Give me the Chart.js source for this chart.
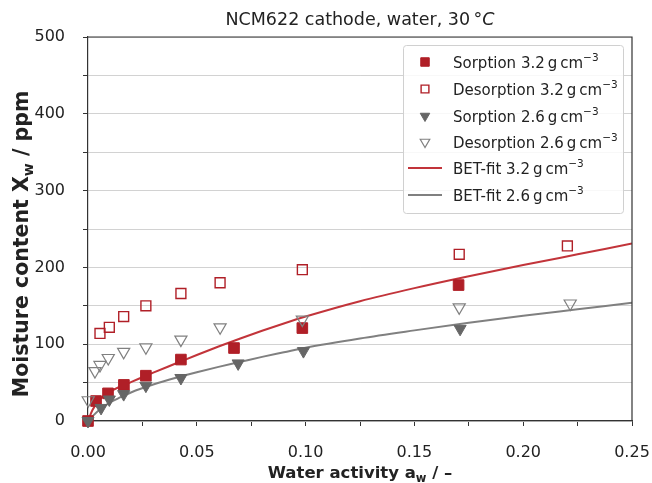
<!DOCTYPE html>
<html>
<head>
<meta charset="utf-8">
<script src="https://cdn.jsdelivr.net/npm/chart.js@4.4.1/dist/chart.umd.min.js"></script>
<style>
  html, body { margin: 0; padding: 0; background: #fff; }
  canvas { display: block; }
</style>
</head>
<body>
<canvas id="isotherm" width="652" height="483"></canvas>
<script>
// water activity (x) and moisture content in ppm (y)
const sorption32Aw = [0.0, 0.0037, 0.0092, 0.0165, 0.0266, 0.0427, 0.0671, 0.0985, 0.1703];
const sorption32Ppm = [0, 26, 36, 47, 59, 80, 95, 121, 177];

const desorption32Aw = [0.0055, 0.0098, 0.0164, 0.0266, 0.0427, 0.0607, 0.0985, 0.1706, 0.2203];
const desorption32Ppm = [114, 122, 136, 150, 166, 180, 197, 217, 228];

const sorption26Aw = [0.0, 0.006, 0.0098, 0.0164, 0.0266, 0.0427, 0.069, 0.099, 0.171];
const sorption26Ppm = [0, 17, 28, 35, 46, 56, 75, 91, 120];

const desorption26Aw = [0.0001, 0.0032, 0.0055, 0.0093, 0.0164, 0.0266, 0.0427, 0.0607, 0.0985, 0.1706, 0.2216];
const desorption26Ppm = [27, 65, 73, 82, 90, 96, 106, 122, 132, 148, 153];

// BET fit curves, sampled along aw
const fitAw = [0, 0.002, 0.005, 0.01, 0.015, 0.02, 0.03, 0.04, 0.05, 0.06, 0.07, 0.08, 0.09, 0.1, 0.125, 0.15, 0.175, 0.2, 0.225, 0.25];
const fit32Ppm = [0, 14, 27, 38, 45, 51, 63, 74.5, 86, 97, 107.5, 117.5, 127, 136, 156, 173, 188.5, 203, 217, 231];
const fit26Ppm = [0, 6, 14, 24, 31, 37.5, 47.5, 56, 63.5, 70.5, 77, 83.5, 89.5, 95.5, 107.5, 118, 128, 137, 145.5, 154];

const xTickLabels = ['0.00', '0.05', '0.10', '0.15', '0.20', '0.25'];
const yTickLabels = ['0', '100', '200', '300', '400', '500'];

const legendNames = ['Sorption 3.2', 'Desorption 3.2', 'Sorption 2.6', 'Desorption 2.6', 'BET-fit 3.2', 'BET-fit 2.6'];

const RED = '#b01f27';
const RED_LINE = '#c2343a';
const GREY = '#666666';
const GREY_LINE = '#808080';
const FONT = "'DejaVu Sans', sans-serif";

function pts(xs, ys) {
    return xs.map((x, i) => ({ x: x, y: ys[i] }));
}

// draws a list of text runs left to right, returns total width
function drawRuns(ctx, x, y, runs, measureOnly) {
    let cx = x;
    runs.forEach(r => {
        ctx.font = r.font;
        if (!measureOnly) ctx.fillText(r.text, cx, y + (r.dy || 0));
        cx += ctx.measureText(r.text).width;
    });
    return cx - x;
}

function unitRuns(name) {
    return [
        { text: name + '\u2009g\u2009cm', font: '15px ' + FONT },
        { text: '\u22123', font: '10.5px ' + FONT, dy: -7 }
    ];
}

const decorPlugin = {
    id: 'decor',
    afterDraw(chart) {
        const ctx = chart.ctx;
        const a = chart.chartArea;
        ctx.save();

        // top and right frame
        ctx.strokeStyle = '#333';
        ctx.lineWidth = 1.2;
        ctx.beginPath();
        ctx.moveTo(a.left, a.top);
        ctx.lineTo(a.right, a.top);
        ctx.lineTo(a.right, a.bottom);
        ctx.stroke();

        ctx.fillStyle = '#222';
        ctx.textBaseline = 'alphabetic';

        // title
        const title = [
            { text: 'NCM622 cathode, water, 30\u2009\u00b0', font: '17.5px ' + FONT },
            { text: 'C', font: 'italic 17.5px ' + FONT }
        ];
        let w = drawRuns(ctx, 0, 0, title, true);
        drawRuns(ctx, (a.left + a.right) / 2 - w / 2, 25, title);

        // x axis title
        const xt = [
            { text: 'Water activity a', font: 'bold 16.5px ' + FONT },
            { text: 'w', font: 'bold 11.5px ' + FONT, dy: 4 },
            { text: ' / \u2013', font: 'bold 16.5px ' + FONT }
        ];
        w = drawRuns(ctx, 0, 0, xt, true);
        drawRuns(ctx, (a.left + a.right) / 2 - w / 2, 478, xt);

        // y axis title
        const yt = [
            { text: 'Moisture content X', font: 'bold 20.5px ' + FONT },
            { text: 'w', font: 'bold 14px ' + FONT, dy: 5 },
            { text: ' / ppm', font: 'bold 20.5px ' + FONT }
        ];
        w = drawRuns(ctx, 0, 0, yt, true);
        ctx.save();
        ctx.translate(28, 244);
        ctx.rotate(-Math.PI / 2);
        drawRuns(ctx, -w / 2, 0, yt);
        ctx.restore();

        // legend box
        const bx = 403, by = 45, bw = 220, bh = 168;
        ctx.fillStyle = 'rgba(255,255,255,0.85)';
        ctx.strokeStyle = '#d0d0d0';
        ctx.lineWidth = 1;
        ctx.beginPath();
        ctx.roundRect(bx + 0.5, by + 0.5, bw, bh, 3);
        ctx.fill();
        ctx.stroke();

        const rowY = [62, 89, 116, 142, 168, 195];
        const mx = 425;
        legendNames.forEach((name, i) => {
            const ds = chart.data.datasets[i];
            const y = rowY[i];
            if (ds.showLine) {
                ctx.strokeStyle = ds.borderColor;
                ctx.lineWidth = 2;
                ctx.beginPath();
                ctx.moveTo(408, y);
                ctx.lineTo(442, y);
                ctx.stroke();
            } else {
                ctx.fillStyle = ds.backgroundColor;
                ctx.strokeStyle = ds.borderColor;
                ctx.lineWidth = ds.borderWidth;
                Chart.helpers.drawPoint(ctx, {
                    pointStyle: ds.pointStyle,
                    rotation: ds.pointRotation || 0,
                    radius: ds.pointRadius - 1.5,
                    borderWidth: ds.borderWidth
                }, mx, y);
            }
            ctx.fillStyle = '#222';
            drawRuns(ctx, 453, y + 6, unitRuns(name));
        });

        ctx.restore();
    }
};

new Chart(document.getElementById('isotherm'), {
    type: 'scatter',
    data: {
        datasets: [
            {
                label: legendNames[0],
                data: pts(sorption32Aw, sorption32Ppm),
                pointStyle: 'rect',
                pointRadius: 7.5,
                backgroundColor: RED,
                borderColor: RED,
                borderWidth: 1,
                clip: false,
                order: 5
            },
            {
                label: legendNames[1],
                data: pts(desorption32Aw, desorption32Ppm),
                pointStyle: 'rect',
                pointRadius: 7,
                backgroundColor: 'rgba(255,255,255,0)',
                borderColor: RED,
                borderWidth: 1.4,
                clip: false,
                order: 4
            },
            {
                label: legendNames[2],
                data: pts(sorption26Aw, sorption26Ppm),
                pointStyle: 'triangle',
                pointRotation: 180,
                pointRadius: 7,
                backgroundColor: GREY,
                borderColor: GREY,
                borderWidth: 1,
                clip: false,
                order: 3
            },
            {
                label: legendNames[3],
                data: pts(desorption26Aw, desorption26Ppm),
                pointStyle: 'triangle',
                pointRotation: 180,
                pointRadius: 7,
                backgroundColor: 'rgba(255,255,255,0)',
                borderColor: GREY_LINE,
                borderWidth: 1.2,
                clip: false,
                order: 2
            },
            {
                label: legendNames[4],
                data: pts(fitAw, fit32Ppm),
                showLine: true,
                pointRadius: 0,
                borderColor: RED_LINE,
                borderWidth: 2,
                cubicInterpolationMode: 'monotone',
                order: 6
            },
            {
                label: legendNames[5],
                data: pts(fitAw, fit26Ppm),
                showLine: true,
                pointRadius: 0,
                borderColor: GREY_LINE,
                borderWidth: 2,
                cubicInterpolationMode: 'monotone',
                order: 7
            }
        ]
    },
    options: {
        responsive: false,
        animation: false,
        layout: { padding: { top: 37, right: 20, left: 0, bottom: 0 } },
        plugins: {
            legend: { display: false },
            title: { display: false },
            tooltip: { enabled: false }
        },
        scales: {
            x: {
                type: 'linear',
                min: 0,
                max: 0.25,
                border: { color: '#333', width: 1.2 },
                grid: { drawOnChartArea: false, tickLength: 5, tickColor: '#333' },
                ticks: {
                    stepSize: 0.025,
                    autoSkip: false,
                    maxRotation: 0,
                    padding: 17,
                    color: '#222',
                    font: { family: FONT, size: 16 },
                    callback: v => {
                        const k = Math.round(v * 1000);
                        return k % 50 === 0 ? xTickLabels[k / 50] : '';
                    }
                },
                afterFit: s => { s.height = 62; s.paddingLeft = 0; s.paddingRight = 0; }
            },
            y: {
                type: 'linear',
                min: 0,
                max: 500,
                border: { color: '#333', width: 1.2 },
                grid: { color: '#d2d2d2', lineWidth: 1, tickLength: 5, tickColor: '#333' },
                ticks: {
                    stepSize: 50,
                    autoSkip: false,
                    padding: 18,
                    color: '#222',
                    font: { family: FONT, size: 16 },
                    callback: v => v % 100 === 0 ? yTickLabels[v / 100] : ''
                },
                afterFit: s => { s.width = 88; s.paddingTop = 0; s.paddingBottom = 0; }
            }
        }
    },
    plugins: [decorPlugin]
});
</script>
</body>
</html>
